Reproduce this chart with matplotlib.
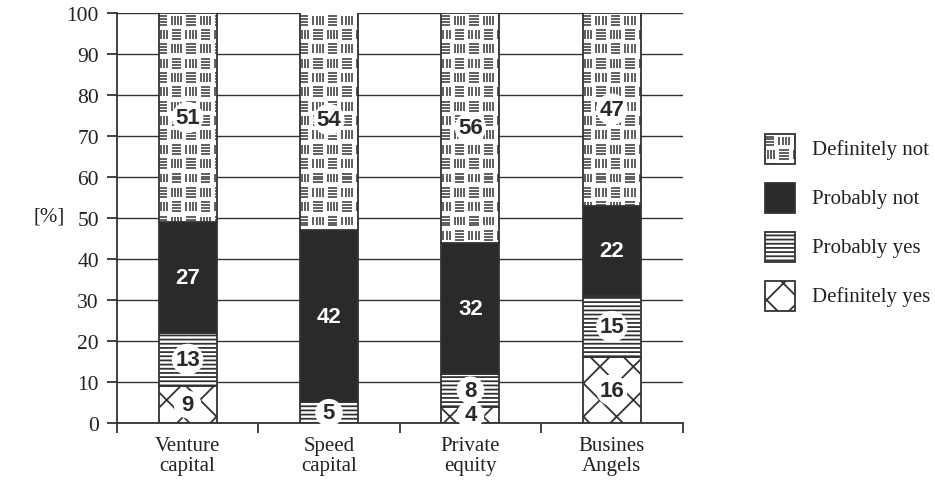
import matplotlib
matplotlib.use('Agg')
import matplotlib.pyplot as plt
from matplotlib.patches import Rectangle
from matplotlib.collections import LineCollection
import numpy as np

categories = ['Venture\ncapital', 'Speed\ncapital', 'Private\nequity', 'Busines\nAngels']
series_names = ['Definitely yes', 'Probably yes', 'Probably not', 'Definitely not']
definitely_yes = [9, 0, 4, 16]
probably_yes = [13, 5, 8, 15]
probably_not = [27, 42, 32, 22]
definitely_not = [51, 54, 56, 47]

DARK = '#2a2a2a'
LINE = '#333333'
TXT = '#222222'
SERIF = 'Liberation Serif'
SANS = 'Liberation Sans'

plt.rcParams['hatch.linewidth'] = 1.3
plt.rcParams['hatch.color'] = LINE


def block_pattern(ax, x0, x1, y0, y1, cw, ch, clip, lw=1.1):
    # checkerboard of little "≡" and "|||" blocks, clipped to the bar
    segs = []
    nx = int(np.ceil((x1 - x0) / cw)) + 2
    ny = int(np.ceil((y1 - y0) / ch)) + 2
    fw, fh = 0.66, 0.62
    for j in range(ny):
        cy = y1 - (j + 0.5) * ch
        for i in range(-1, nx):
            cx = x0 + (i + 0.25) * cw
            bx0, bx1 = cx - fw * cw / 2, cx + fw * cw / 2
            by0, by1 = cy - fh * ch / 2, cy + fh * ch / 2
            if (i + j) % 2 == 0:
                for t in np.linspace(0, 1, 4):
                    yy = by0 + t * (by1 - by0)
                    segs.append([(bx0, yy), (bx1, yy)])
            else:
                for t in np.linspace(0, 1, 4):
                    xx = bx0 + t * (bx1 - bx0)
                    segs.append([(xx, by0), (xx, by1)])
    lc = LineCollection(segs, colors=LINE, linewidths=lw, zorder=3)
    ax.add_collection(lc)
    lc.set_clip_path(clip)


fig = plt.figure(figsize=(9.35, 4.81), dpi=100)
ax = fig.add_axes([0.125, 0.1185, 0.605, 0.8525])

x = np.arange(len(categories))
bar_w = 0.41
styles = [
    dict(facecolor='white', hatch='x'),
    dict(facecolor='white', hatch='----'),
    dict(facecolor=DARK, hatch=None),
    dict(facecolor='white', hatch=None),
]
values = [definitely_yes, probably_yes, probably_not, definitely_not]

bottom = np.zeros(len(categories))
for k, (vals, st) in enumerate(zip(values, styles)):
    vals = np.array(vals, dtype=float)
    bars = ax.bar(x, vals, bar_w, bottom=bottom, color=st['facecolor'],
                  hatch=st['hatch'], edgecolor=LINE, linewidth=1.3, zorder=2)
    for b, v, b0 in zip(bars, vals, bottom):
        if v <= 0:
            continue
        if k == 3:
            block_pattern(ax, b.get_x(), b.get_x() + b.get_width(),
                          b0, min(b0 + v, 100), bar_w / 4, 3.5, b)
        cy = b0 + v / 2
        if k == 2:
            ax.text(b.get_x() + bar_w / 2, cy, f'{int(v)}', ha='center', va='center',
                    color='white', fontsize=16, fontweight='bold', family=SANS, zorder=5)
        else:
            ax.text(b.get_x() + bar_w / 2, cy, f'{int(v)}', ha='center', va='center',
                    color=DARK, fontsize=16, fontweight='bold', family=SANS, zorder=5,
                    bbox=dict(boxstyle='circle,pad=0.15', fc='white', ec='none'))
    bottom += vals

ax.set_xlim(-0.5, len(categories) - 0.5)
ax.set_ylim(0, 100)
ax.set_yticks(np.arange(0, 101, 10))
ax.yaxis.grid(True, color=LINE, linewidth=1.0, zorder=0)
ax.set_axisbelow(True)
for s in ['top', 'right']:
    ax.spines[s].set_visible(False)
for s in ['left', 'bottom']:
    ax.spines[s].set_color(LINE)
    ax.spines[s].set_linewidth(1.3)

ax.set_xticks(x)
ax.set_xticklabels(categories, family=SERIF, fontsize=15, color=TXT, linespacing=1.1)
ax.tick_params(axis='x', length=0, pad=9)
ax.set_xticks(np.arange(-0.5, len(categories)), minor=True)
ax.tick_params(axis='x', which='minor', length=7, width=1.3, color=LINE, direction='out')
ax.tick_params(axis='y', length=7, width=1.3, color=LINE, direction='out', pad=6)
for lab in ax.get_yticklabels():
    lab.set_family(SERIF)
    lab.set_fontsize(15.5)
    lab.set_color(TXT)

fig.text(0.036, 0.549, '[%]', family=SERIF, fontsize=15, color=TXT,
         ha='left', va='center')

# legend keys, top entry first
lax = fig.add_axes([0.815, 0.3315, 0.185, 0.4075])
lax.set_xlim(0, 1)
lax.set_ylim(0, 4)
lax.axis('off')
kw, kh = 0.173, 0.61
for row, k in enumerate([3, 2, 1, 0]):
    yc = 3.5 - row
    st = styles[k]
    r = Rectangle((0.02, yc - kh / 2), kw, kh, facecolor=st['facecolor'],
                  hatch=st['hatch'], edgecolor=LINE, linewidth=1.3, zorder=2)
    lax.add_patch(r)
    if k == 3:
        block_pattern(lax, 0.02, 0.02 + kw, yc - kh / 2, yc + kh / 2, kw / 2, kh / 2.2, r)
    lax.text(0.29, yc, series_names[k], family=SERIF, fontsize=15, color=TXT,
             ha='left', va='center')

fig.savefig('out.png', dpi=100)
